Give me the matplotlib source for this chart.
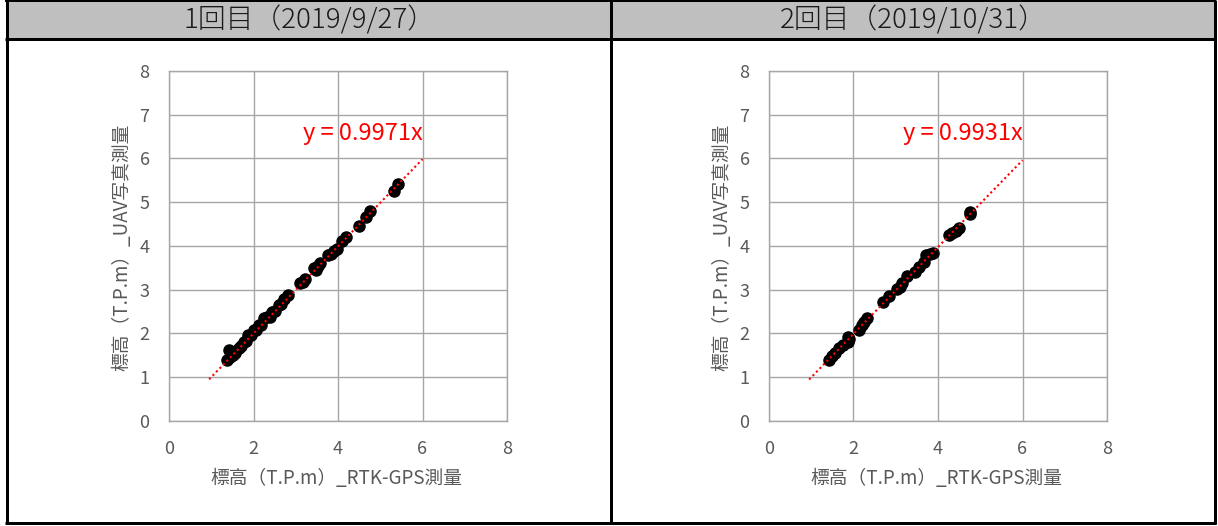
import numpy as np
import matplotlib
matplotlib.use("Agg")
import matplotlib.pyplot as plt
from matplotlib.patches import Rectangle

plt.rcParams["font.family"] = ["Noto Sans CJK JP", "DejaVu Sans"]

W, H = 1218, 526

# ── data ──
titles = ["1回目（2019/9/27）", "2回目（2019/10/31）"]
slopes = [0.9971, 0.9931]
x_label = "標高（T.P.m）_RTK-GPS測量"
y_label = "標高（T.P.m）_UAV写真測量"
ticks = [0, 1, 2, 3, 4, 5, 6, 7, 8]
xticks = [0, 2, 4, 6, 8]

gps_1 = [1.37, 1.41, 1.45, 1.51, 1.56, 1.65, 1.70, 1.77, 1.82, 1.88, 1.94,
         2.00, 2.06, 2.12, 2.18, 2.24, 2.32, 2.38, 2.44, 2.52, 2.60, 2.66,
         2.72, 2.82, 3.11, 3.16, 3.21, 3.43, 3.47, 3.52, 3.57, 3.77, 3.83,
         3.90, 3.98, 4.10, 4.19, 4.50, 4.66, 4.76, 5.33, 5.42]
uav_1 = [1.39, 1.62, 1.45, 1.50, 1.55, 1.66, 1.70, 1.81, 1.83, 1.96, 1.95,
         2.07, 2.08, 2.19, 2.20, 2.34, 2.37, 2.38, 2.49, 2.52, 2.65, 2.67,
         2.78, 2.88, 3.14, 3.17, 3.24, 3.49, 3.44, 3.53, 3.60, 3.79, 3.82,
         3.89, 3.92, 4.10, 4.21, 4.45, 4.67, 4.80, 5.26, 5.42]

gps_2 = [1.41, 1.49, 1.57, 1.66, 1.76, 1.86, 1.88, 1.90, 2.14, 2.20, 2.26,
         2.33, 2.71, 2.85, 3.04, 3.09, 3.14, 3.26, 3.46, 3.56, 3.68, 3.72,
         3.81, 3.89, 4.25, 4.34, 4.42, 4.49, 4.75, 4.75]
uav_2 = [1.39, 1.48, 1.54, 1.66, 1.73, 1.81, 1.92, 1.86, 2.07, 2.19, 2.25,
         2.34, 2.72, 2.85, 3.01, 3.06, 3.14, 3.30, 3.41, 3.52, 3.64, 3.79,
         3.82, 3.83, 4.25, 4.30, 4.33, 4.40, 4.74, 4.78]

series = [(gps_1, uav_1), (gps_2, uav_2)]
trend_range = [0.95, 6.0]
eq_pos = (3.18, 6.58)

fig = plt.figure(figsize=(W / 100, H / 100), dpi=100)

# frame / header drawn in pixel coordinates
bg = fig.add_axes([0, 0, 1, 1])
bg.set_xlim(0, W)
bg.set_ylim(H, 0)
bg.axis("off")
bg.add_patch(Rectangle((6.5, 1), 1208, 37.5, facecolor="#BFBFBF", edgecolor="none"))
lw3 = 3 * 0.72
bg.plot([6.5, 6.5], [0, 524], color="#000000", lw=lw3, solid_capstyle="butt")
bg.plot([1214.5, 1214.5], [0, 524], color="#000000", lw=lw3, solid_capstyle="butt")
bg.plot([610.5, 610.5], [0, 524], color="#000000", lw=lw3, solid_capstyle="butt")
bg.plot([5, 1216], [1, 1], color="#000000", lw=2 * 0.72, solid_capstyle="butt")
bg.plot([5, 1216], [38.5, 38.5], color="#000000", lw=lw3, solid_capstyle="butt")
bg.plot([5, 1216], [523, 523], color="#000000", lw=lw3, solid_capstyle="butt")
bg.text(309, 20, titles[0], ha="center", va="center", fontsize=20,
        color="#1a1a1a", fontweight="light")
bg.text(913, 20, titles[1], ha="center", va="center", fontsize=20,
        color="#1a1a1a", fontweight="light")

grid_c = "#A6A6A6"
text_c = "#595959"
for i, left_px in enumerate([169, 769]):
    ax = fig.add_axes([left_px / W, (H - 420.7) / H, 338 / W, 349.7 / H])
    ax.set_xlim(0, 8)
    ax.set_ylim(0, 8)
    ax.set_xticks(xticks)
    ax.set_yticks(ticks)
    ax.grid(True, color=grid_c, lw=1.0)
    ax.set_axisbelow(True)
    for s in ax.spines.values():
        s.set_color(grid_c)
        s.set_linewidth(1.0)
    ax.tick_params(length=0, labelsize=13, labelcolor=text_c)
    ax.tick_params(axis="x", pad=14)
    ax.tick_params(axis="y", pad=14)

    gx, gy = series[i]
    ax.plot(gx, gy, "o", ms=8, color="#000000", mec="#000000", zorder=3, clip_on=False)
    tx = np.array(trend_range)
    ax.plot(tx, slopes[i] * tx, color="#FF0000", lw=1.5, ls=(0, (1, 1.4)),
            zorder=4, clip_on=False)
    ax.text(eq_pos[0], eq_pos[1], f"y = {slopes[i]:.4f}x", color="#FF0000",
            fontsize=17, va="center", ha="left")

    ax.set_xlabel(x_label, fontsize=13.5, color=text_c)
    ax.set_ylabel(y_label, fontsize=13.5, color=text_c)
    ax.xaxis.set_label_coords(0.4955, -0.164)
    ax.yaxis.set_label_coords(-0.139, 0.495)
    ax.xaxis.label.set_va("center")
    ax.yaxis.label.set_va("center")

fig.savefig("out.png", dpi=100)
